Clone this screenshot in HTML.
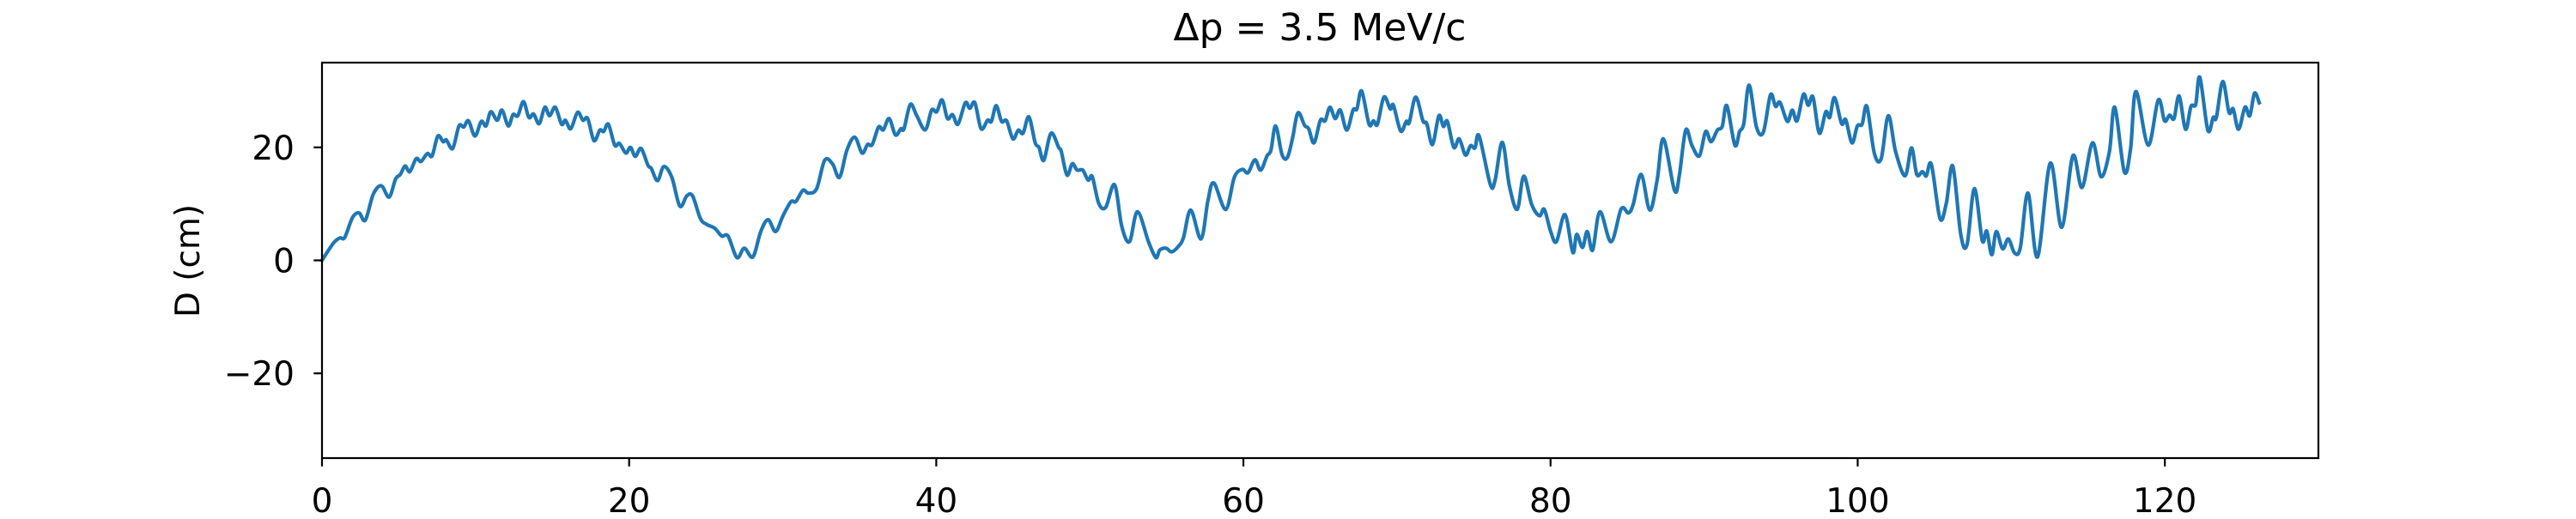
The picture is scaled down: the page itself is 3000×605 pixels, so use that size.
<!DOCTYPE html>
<html><head><meta charset="utf-8"><style>
html,body{margin:0;padding:0;background:#fff;}
svg text{font-family:"DejaVu Sans","Liberation Sans",sans-serif;fill:#000;}
</style></head><body>
<svg id="chart" width="3000" height="600" viewBox="0 0 3000 600" xmlns="http://www.w3.org/2000/svg">
<rect x="0" y="0" width="3000" height="600" fill="#fff"/>
<text x="1537" y="47" font-size="44" text-anchor="middle">Δp = 3.5 MeV/c</text>
<text x="0" y="0" font-size="39" text-anchor="middle" transform="translate(232,304) rotate(-90)">D (cm)</text>
<g id="plot"></g>
</svg>
<script>
const xTicks = [0, 20, 40, 60, 80, 100, 120];
const yTicks = [-20, 0, 20];
const xDomain = [0, 130];
const yDomain = [-35, 35];
const seriesX = [0,0.75,1.17,1.48,1.99,2.41,2.82,3.34,3.86,4.37,4.79,5.10,5.41,5.72,6.13,6.44,6.86,7.17,7.54,7.89,8.10,8.51,8.92,9.23,9.54,9.96,10.37,10.68,10.99,11.41,11.72,12.13,12.44,12.75,13.12,13.47,13.78,14.14,14.51,14.82,15.19,15.60,15.85,16.20,16.64,16.99,17.30,17.71,18.09,18.34,18.65,19.06,19.37,19.78,20.09,20.40,20.78,21.23,21.44,21.85,22.26,22.78,23.30,23.75,24.13,24.64,25.06,25.57,26.03,26.44,27.02,27.50,28.06,28.57,29.05,29.54,30.02,30.54,30.85,31.32,31.68,
32.21,32.73,33.24,33.70,34.18,34.69,35.17,35.52,35.83,36.24,36.55,36.93,37.34,37.69,37.90,38.31,38.73,39.28,39.70,40.03,40.38,40.73,41.06,41.41,41.89,42.18,42.51,42.92,43.34,43.59,43.90,44.25,44.58,44.99,45.34,45.65,46.03,46.44,46.69,47.00,47.47,47.97,48.14,48.51,48.86,49.17,49.54,49.89,50.16,50.58,51.03,51.61,52.07,52.58,53.10,53.82,54.30,54.55,54.96,55.33,55.79,56.10,56.57,57.24,57.69,58.07,58.85,59.41,59.92,60.30,60.75,61.12,61.54,61.79,62.10,62.51,62.86,63.19,63.55,
63.98,64.25,64.60,65.01,65.32,65.63,65.98,66.31,66.73,67.14,67.39,67.70,68.18,68.47,68.73,69.15,69.56,69.77,70.24,70.60,70.80,71.22,71.69,71.94,72.31,72.73,73.02,73.28,73.70,74.05,74.46,74.79,75.08,75.35,76.08,76.39,76.86,77.32,77.83,78.25,78.77,79.28,79.59,80.01,80.38,80.94,81.45,81.70,82.08,82.39,82.74,83.21,83.94,84.60,85.07,85.38,85.90,86.46,86.94,87.35,88.07,88.38,88.80,89.21,89.69,90.10,90.45,90.86,91.18,91.48,92.00,92.31,92.58,92.93,93.41,93.86,94.32,94.65,94.94,95.42,
95.74,96.05,96.47,96.78,97.09,97.50,97.92,98.18,98.49,98.95,99.22,99.63,99.98,100.29,100.60,101.08,101.53,101.99,102.47,103.09,103.50,103.85,104.22,104.47,104.80,105.36,105.77,106.19,106.71,107.12,107.60,108.11,108.40,108.73,109.02,109.44,109.81,110.22,110.59,111.09,111.71,112.54,113.28,114.01,114.61,115.29,115.85,116.39,116.74,117.36,117.77,118.12,118.91,119.57,119.98,120.31,120.60,120.93,121.35,121.70,122.01,122.28,122.80,123.15,123.36,123.77,124.18,124.45,124.80,125.22,125.53,125.84,126.15];
const seriesY = [0,3.06,3.97,4.07,7.6,8.4,7.1,11.7,13.2,11.2,14.4,15.2,16.7,15.7,18.0,17.5,18.9,18.5,22.0,21.0,21.3,19.8,23.8,23.6,24.7,22.0,24.6,23.8,26.3,24.8,26.6,23.8,25.8,25.6,28.1,25.3,25.9,24.2,27.1,25.6,27.1,24.1,24.8,23.3,26.2,24.8,25.1,21.2,23.05,22.8,24.1,20.4,20.7,19.0,20.0,18.4,19.8,16.8,16.3,14.1,16.6,14.7,9.6,11.4,11.4,7.4,6.35,5.7,4.3,4.3,0.5,2.15,0.6,5.1,7.2,5.1,7.9,10.4,10.4,12.4,11.9,
12.7,17.7,17.1,14.7,19.5,21.8,19.0,20.5,20.5,23.6,23.1,25.1,22.2,23.3,23.3,27.6,25.6,23.1,26.6,26.3,28.4,25.1,25.8,24.1,27.9,26.9,27.9,23.3,24.8,24.6,27.4,24.6,24.7,21.5,23.05,22.5,25.4,20.8,20.0,17.7,22.5,20.0,19.25,15.1,17.1,15.97,15.97,14.2,14.8,10.1,9.4,13.4,6.1,3.3,8.6,3.3,0.5,1.8,2.15,1.5,2.55,4.07,8.9,3.8,10.6,13.7,9.0,14.7,16.1,15.5,17.8,15.97,18.5,19.5,23.8,18.75,18.2,21.5,26.1,
23.9,23.3,20.8,24.8,24.7,27.1,25.1,26.6,23.05,26.6,26.8,29.99,24.1,24.7,24.1,28.9,26.8,27.45,22.9,24.6,24.4,28.9,24.7,24.2,20.5,25.6,23.7,24.6,20.0,21.5,18.65,20.3,19.9,22.0,13.4,14.2,20.9,13.2,9.03,14.9,9.9,7.9,9.03,5.1,3.3,8.1,1.4,4.6,2.3,5.1,1.8,8.6,3.3,9.1,8.4,9.9,15.2,8.9,14.2,21.5,12.4,14.9,23.05,20.3,18.5,22.8,21.0,23.05,23.7,27.4,20.4,22.8,24.2,31.0,23.6,22.7,29.3,27.25,27.96,24.6,
26.6,24.7,29.4,27.45,28.9,22.5,26.3,25.3,28.8,24.2,24.9,20.8,23.8,24.1,27.25,19.0,18.0,25.6,19.25,14.95,19.9,15.2,15.7,14.95,16.98,7.4,10.15,16.7,4.6,2.8,12.7,3.5,5.2,1.0,5.1,2.05,3.8,1.3,2.3,11.9,0.6,17.2,5.85,18.5,12.9,20.8,14.8,19.25,27.1,15.7,19.8,29.9,20.4,28.4,24.7,25.7,25.1,29.1,23.2,27.25,27.6,32.4,23.05,25.3,25.3,31.65,26.2,26.8,23.2,27.1,25.6,29.6,27.9];

const NS = 'http://www.w3.org/2000/svg';
const L = 375, R = 2700, T = 73, B = 534;
function sx(v){ return L + (v - xDomain[0]) / (xDomain[1] - xDomain[0]) * (R - L); }
function sy(v){ return B - (v - yDomain[0]) / (yDomain[1] - yDomain[0]) * (B - T); }
const plot = document.getElementById('plot');
function mk(tag, attrs){ const e = document.createElementNS(NS, tag); for (const k in attrs) e.setAttribute(k, attrs[k]); plot.appendChild(e); return e; }

const pts = seriesX.map((x, i) => [sx(x), sy(seriesY[i])]);
let d = 'M' + pts[0][0].toFixed(1) + ',' + pts[0][1].toFixed(1);
for (let i = 0; i < pts.length - 1; i++) {
  const p0 = pts[Math.max(0, i - 1)], p1 = pts[i], p2 = pts[i + 1], p3 = pts[Math.min(pts.length - 1, i + 2)];
  const c1 = [p1[0] + (p2[0] - p0[0]) / 6, p1[1] + (p2[1] - p0[1]) / 6];
  const c2 = [p2[0] - (p3[0] - p1[0]) / 6, p2[1] - (p3[1] - p1[1]) / 6];
  d += ' C' + c1[0].toFixed(1) + ',' + c1[1].toFixed(1) + ' ' + c2[0].toFixed(1) + ',' + c2[1].toFixed(1) + ' ' + p2[0].toFixed(1) + ',' + p2[1].toFixed(1);
}
const line = mk('path', {d: d, fill: 'none', stroke: '#1f77b4', 'stroke-width': 4.2, 'stroke-linejoin': 'round', 'stroke-linecap': 'square'});



const frame = mk('rect', {x: L, y: T, width: R - L, height: B - T, fill: 'none', stroke: '#000', 'stroke-width': 2.2});



xTicks.forEach(v => {
  const x = sx(v);
  const t = mk('line', {x1: x, x2: x, y1: B, y2: B + 9.7, stroke: '#000', 'stroke-width': 2.2});
  
  
  const lb = mk('text', {x: x, y: 597, 'font-size': 39, 'text-anchor': 'middle'});
  lb.textContent = String(v);
  
  
});
yTicks.forEach(v => {
  const y = sy(v);
  const t = mk('line', {x1: L - 9.7, x2: L, y1: y, y2: y, stroke: '#000', 'stroke-width': 2.2});
  
  
  const lb = mk('text', {x: 343, y: y + 14, 'font-size': 39, 'text-anchor': 'end'});
  lb.textContent = v < 0 ? '\u2212' + Math.abs(v) : String(v);
  
  
});
</script>
</body></html>
